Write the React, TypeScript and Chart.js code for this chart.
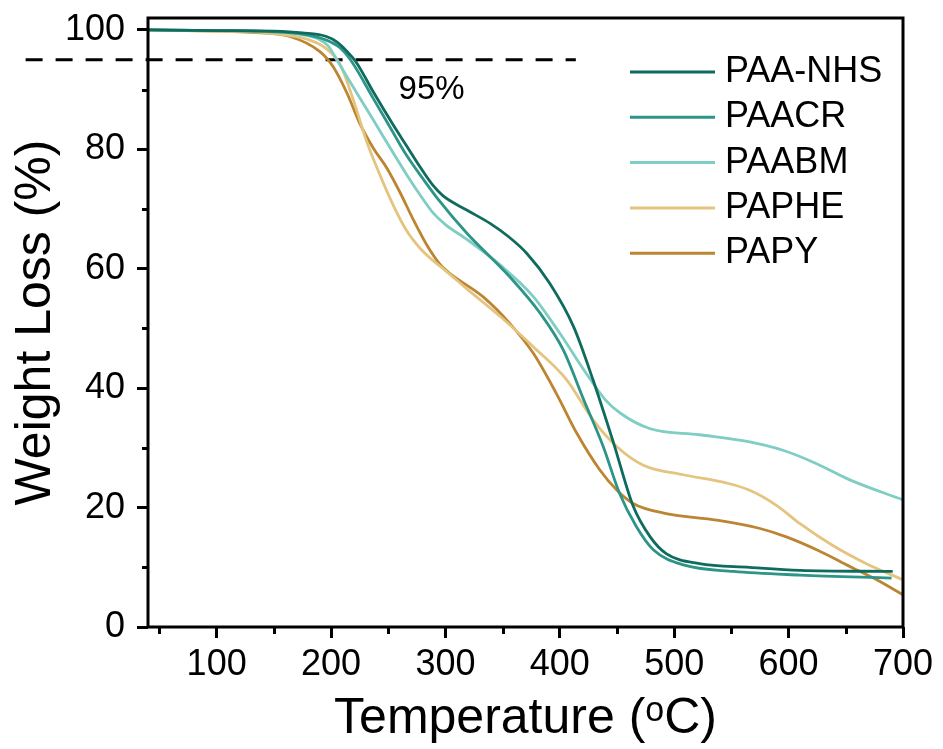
import React, { useEffect, useRef } from 'react';
import { Chart, registerables } from 'chart.js';

Chart.register(...registerables);

// ---------- data ----------
const SERIES_NAMES = ['PAA-NHS', 'PAACR', 'PAABM', 'PAPHE', 'PAPY'];
const SERIES_COLORS = ['#0e6b5d', '#2d9488', '#7fcdc3', '#e4c47f', '#bb8532'];

const T_PAA_NHS = [40, 100, 150, 175, 196, 205, 214, 222, 237, 254, 266, 278, 289, 298, 319, 339, 355, 371, 391, 412, 429, 447, 464, 479, 493, 522, 566, 610, 691];
const W_PAA_NHS = [100, 99.9, 99.8, 99.5, 98.9, 98.0, 96.4, 94.6, 89.6, 84.2, 80.6, 77.0, 74.0, 72.2, 69.8, 67.6, 65.4, 62.6, 57.6, 50.3, 41.4, 30.8, 20.3, 15.1, 12.3, 10.6, 10.0, 9.5, 9.3];

const T_PAACR = [40, 100, 150, 175, 196, 208, 217, 237, 254, 266, 281, 293, 319, 356, 383, 403, 421, 438, 452, 467, 482, 508, 552, 610, 690];
const W_PAACR = [100, 99.9, 99.7, 99.3, 98.3, 97.0, 95.0, 88.5, 82.9, 79.0, 74.9, 71.8, 65.9, 58.7, 52.5, 46.4, 38.0, 30.2, 22.5, 16.8, 12.9, 10.4, 9.3, 8.7, 8.2];

const T_PAABM = [40, 100, 150, 175, 190, 198, 205, 222, 237, 254, 266, 277, 289, 300, 319, 348, 377, 400, 423, 440, 453, 479, 522, 566, 595, 624, 654, 700];
const W_PAABM = [100, 99.9, 99.7, 99.2, 98.4, 97.2, 95.0, 89.6, 84.9, 79.5, 75.8, 72.6, 69.4, 67.4, 64.9, 60.6, 55.3, 49.2, 42.5, 38.0, 35.8, 33.2, 32.2, 31.0, 29.6, 27.4, 24.6, 21.3];

const T_PAPHE = [40, 100, 150, 180, 195, 208, 220, 231, 243, 254, 266, 278, 289, 300, 319, 348, 377, 406, 429, 450, 473, 508, 546, 566, 590, 610, 639, 668, 700];
const W_PAPHE = [100, 99.8, 99.4, 98.4, 97.0, 94.2, 88.0, 81.4, 75.6, 70.8, 66.4, 63.4, 61.4, 59.7, 56.6, 52.0, 46.9, 41.4, 34.7, 30.2, 27.1, 25.5, 24.1, 22.9, 20.3, 17.3, 13.6, 10.6, 7.9];

const T_PAPY = [40, 100, 130, 164, 190, 202, 214, 225, 237, 249, 260, 272, 284, 295, 304, 333, 356, 377, 397, 415, 435, 450, 464, 493, 537, 575, 598, 625, 654, 677, 700];
const W_PAPY = [100, 99.8, 99.6, 98.9, 96.4, 93.8, 89.4, 84.4, 80.2, 76.8, 72.9, 68.2, 63.9, 60.8, 59.2, 55.3, 50.9, 45.8, 39.1, 32.4, 26.3, 22.9, 20.7, 19.0, 17.9, 16.5, 15.1, 12.9, 10.1, 7.9, 5.4];

const SERIES_T = [T_PAA_NHS, T_PAACR, T_PAABM, T_PAPHE, T_PAPY];
const SERIES_W = [W_PAA_NHS, W_PAACR, W_PAABM, W_PAPHE, W_PAPY];

// 95% reference line
const THRESHOLD_T = [-67, 414];
const THRESHOLD_W = [95, 95];
const ANNOT_TEXT = '95%';
const ANNOT_T = 259;
const ANNOT_W = 90;

// axes
const X_MIN = 40;
const X_MAX = 700;
const Y_MIN = 0;
const Y_MAX = 102;
const X_MINOR = [50, 150, 250, 350, 450, 550, 650];
const Y_MINOR = [10, 30, 50, 70, 90];

const FONT = '"Liberation Sans", Arial, sans-serif';

const overlayPlugin = {
  id: 'overlay',
  afterDatasetsDraw(chart: any) {
    const { ctx, chartArea: a, scales } = chart;
    const xs = scales.x;
    const ys = scales.y;
    ctx.save();
    ctx.strokeStyle = '#000';
    ctx.lineWidth = 3;
    ctx.lineCap = 'butt';
    // minor ticks
    X_MINOR.forEach((v) => {
      const px = Math.round(xs.getPixelForValue(v)) + 0.5;
      ctx.beginPath();
      ctx.moveTo(px, a.bottom);
      ctx.lineTo(px, a.bottom + 7);
      ctx.stroke();
    });
    Y_MINOR.forEach((v) => {
      const py = Math.round(ys.getPixelForValue(v)) + 0.5;
      ctx.beginPath();
      ctx.moveTo(a.left, py);
      ctx.lineTo(a.left - 6, py);
      ctx.stroke();
    });
    // frame
    ctx.strokeRect(a.left, a.top, a.right - a.left, a.bottom - a.top);
    // annotation
    ctx.fillStyle = '#000';
    ctx.font = `33px ${FONT}`;
    ctx.textAlign = 'left';
    ctx.textBaseline = 'middle';
    ctx.fillText(ANNOT_TEXT, xs.getPixelForValue(ANNOT_T), ys.getPixelForValue(ANNOT_W));
    // legend
    ctx.font = `36px ${FONT}`;
    const lx0 = a.right - 273;
    const lx1 = a.right - 188;
    const tx = a.right - 178;
    SERIES_NAMES.forEach((name, i) => {
      const yy = a.top + 54 + i * 45.3;
      ctx.strokeStyle = SERIES_COLORS[i];
      ctx.lineWidth = 3;
      ctx.beginPath();
      ctx.moveTo(lx0, yy);
      ctx.lineTo(lx1, yy);
      ctx.stroke();
      ctx.fillStyle = '#000';
      ctx.fillText(name, tx, yy);
    });
    ctx.restore();
  },
};

export default function App() {
  const ref = useRef<HTMLCanvasElement | null>(null);

  useEffect(() => {
    if (!ref.current) return;
    const datasets: any[] = SERIES_NAMES.map((name, i) => ({
      label: name,
      data: SERIES_T[i].map((t, k) => ({ x: t, y: SERIES_W[i][k] })),
      borderColor: SERIES_COLORS[i],
      backgroundColor: SERIES_COLORS[i],
      borderWidth: 2.8,
      pointRadius: 0,
      fill: false,
      cubicInterpolationMode: 'monotone',
    }));
    datasets.push({
      label: 'threshold',
      data: THRESHOLD_T.map((t, k) => ({ x: t, y: THRESHOLD_W[k] })),
      borderColor: '#000',
      borderWidth: 3,
      borderDash: [17, 13],
      pointRadius: 0,
      fill: false,
      clip: false,
      tension: 0,
    });

    const chart = new Chart(ref.current, {
      type: 'line',
      data: { datasets },
      options: {
        animation: false,
        responsive: false,
        devicePixelRatio: 1,
        layout: { padding: { top: 18, right: 40, left: 0, bottom: 0 } },
        plugins: { legend: { display: false }, tooltip: { enabled: false } },
        scales: {
          x: {
            type: 'linear',
            min: X_MIN,
            max: X_MAX,
            afterFit: (s: any) => {
              s.height = 122;
            },
            border: { display: false },
            grid: { drawOnChartArea: false, drawTicks: true, tickLength: 11, tickWidth: 3, tickColor: '#000' },
            ticks: {
              stepSize: 100,
              includeBounds: false,
              color: '#000',
              font: { family: FONT, size: 36, lineHeight: 1.0 },
              padding: 9,
              maxRotation: 0,
              autoSkip: false,
            },
            title: {
              display: true,
              text: 'Temperature (ᵒC)',
              color: '#000',
              font: { family: FONT, size: 50, lineHeight: 1.2 },
              padding: { top: 0, bottom: 0 },
            },
          },
          y: {
            type: 'linear',
            min: Y_MIN,
            max: Y_MAX,
            afterFit: (s: any) => {
              s.width = 148;
              s.paddingTop = 0;
              s.paddingBottom = 0;
            },
            border: { display: false },
            grid: { drawOnChartArea: false, drawTicks: true, tickLength: 11, tickWidth: 3, tickColor: '#000' },
            ticks: {
              stepSize: 20,
              includeBounds: false,
              color: '#000',
              font: { family: FONT, size: 36, lineHeight: 0.3 },
              padding: 12,
            },
            title: {
              display: true,
              text: 'Weight Loss (%)',
              color: '#000',
              font: { family: FONT, size: 50, lineHeight: 1.2 },
              padding: { top: 6, bottom: 0 },
            },
          },
        },
      },
      plugins: [overlayPlugin],
    } as any);
    return () => chart.destroy();
  }, []);

  return (
    <div style={{ position: 'absolute', left: 0, top: 0, width: 943, height: 749, background: '#fff' }}>
      <canvas ref={ref} width={943} height={749} style={{ display: 'block' }} />
    </div>
  );
}
